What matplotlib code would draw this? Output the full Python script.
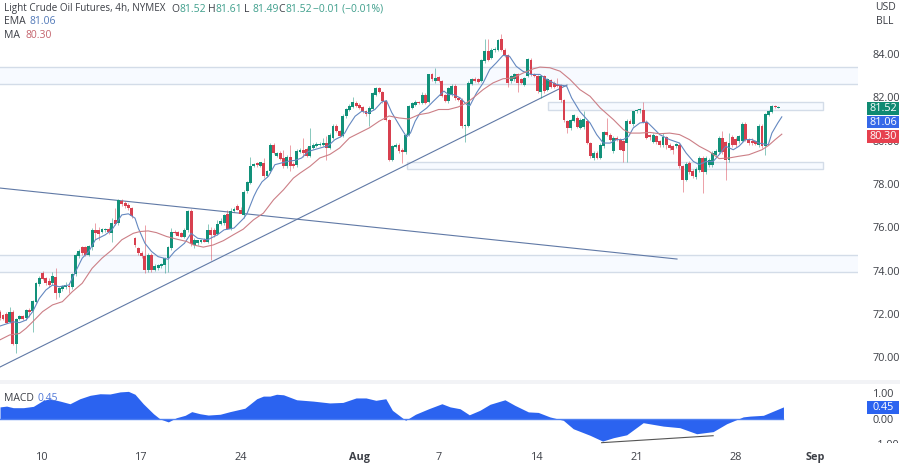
#!/usr/bin/env python3
# plot.py - crude oil 4h chart with EMA, MA and MACD pane
import matplotlib
matplotlib.use('Agg')
import matplotlib.pyplot as plt
from matplotlib.patches import Rectangle
from matplotlib.transforms import Bbox

plt.rcParams['font.family'] = ['Open Sans', 'DejaVu Sans']

# candles, first one sits at bar -1
opens = [72.10, 71.94, 71.99, 71.63, 72.10, 70.60, 71.74, 71.90, 71.79, 72.17,
         72.14, 72.56, 73.38, 73.87, 73.64, 73.53, 73.44, 73.72, 72.98, 73.13,
         73.25, 73.30, 73.25, 73.84, 74.69, 75.08, 75.08, 74.72, 75.08, 75.88,
         75.88, 75.80, 75.85, 75.92, 75.72, 76.34, 76.19, 77.19, 77.11, 77.04,
         76.88, 75.49, 75.03, 74.80, 74.67, 74.03, 74.72, 74.03, 74.10, 74.21,
         74.26, 74.56, 75.03, 75.80, 75.77, 75.72, 75.55, 75.88, 76.77, 75.19,
         75.26, 75.34, 75.42, 75.34, 75.85, 75.85, 75.70, 76.17, 76.19, 76.60,
         75.91, 76.76, 76.99, 76.81, 76.57, 77.68, 78.04, 78.85, 78.97, 78.85,
         78.97, 78.35, 78.58, 79.82, 79.31, 79.43, 79.20, 78.82, 79.25, 78.94,
         78.89, 79.48, 79.59, 79.63, 79.31, 79.66, 79.77, 79.80, 79.82, 79.90,
         79.66, 80.13, 80.67, 80.44, 80.23, 81.13, 81.41, 81.56, 81.75, 81.67,
         81.56, 81.36, 81.21, 81.48, 82.13, 82.44, 82.24, 81.82, 80.97, 79.12,
         79.71, 79.82, 79.58, 79.46, 80.28, 81.51, 81.67, 81.78, 81.75, 82.13,
         81.78, 83.06, 82.75, 82.93, 82.75, 82.10, 81.82, 82.13, 82.52, 81.98,
         81.90, 80.66, 80.70, 82.64, 82.87, 82.83, 82.75, 83.67, 84.14, 83.83,
         84.18, 84.21, 84.68, 84.21, 83.94, 82.75, 82.83, 83.06, 82.83, 82.59,
         82.98, 83.72, 83.06, 82.98, 82.24, 82.98, 82.36, 82.79, 82.67, 82.59,
         82.55, 81.87, 80.90, 80.59, 80.90, 81.05, 80.60, 80.62, 80.90, 79.89,
         79.20, 79.43, 79.20, 79.74, 80.38, 80.28, 79.50, 80.12, 80.05, 79.97,
         79.89, 80.89, 80.75, 81.36, 81.40, 81.40, 80.87, 80.25, 79.94, 80.20,
         79.97, 79.82, 80.15, 79.82, 79.74, 79.74, 79.82, 78.81, 78.20, 78.97,
         78.60, 78.32, 78.66, 79.20, 78.55, 78.86, 78.86, 79.35, 79.48, 80.12,
         79.94, 79.09, 80.15, 80.09, 79.97, 80.00, 80.77, 80.05, 80.00, 79.97,
         79.78, 80.66, 79.74, 81.20, 81.33, 81.59, 81.52]
highs = [72.17, 72.00, 72.10, 72.30, 72.17, 71.79, 71.95, 71.95, 72.20, 72.25,
         72.65, 73.45, 73.75, 73.98, 73.70, 73.64, 73.95, 74.10, 73.25, 73.35,
         73.45, 73.40, 73.90, 74.80, 74.98, 75.15, 75.15, 75.18, 75.95, 76.19,
         76.00, 75.98, 75.98, 76.03, 76.42, 76.88, 77.30, 77.30, 77.20, 77.12,
         76.95, 75.55, 75.10, 74.88, 76.11, 74.80, 74.80, 74.28, 74.32, 74.33,
         74.62, 75.13, 75.98, 75.85, 75.82, 75.78, 75.95, 76.80, 76.85, 75.52,
         75.42, 75.45, 75.50, 76.15, 76.03, 75.95, 76.35, 76.42, 76.62, 76.80,
         76.90, 76.95, 77.05, 76.92, 77.70, 78.12, 79.24, 78.95, 79.02, 79.00,
         79.20, 78.65, 79.90, 79.88, 79.48, 79.50, 79.59, 79.32, 79.82, 79.00,
         79.60, 79.65, 80.13, 79.70, 80.59, 79.88, 79.92, 79.92, 80.13, 80.20,
         80.34, 80.76, 80.75, 80.50, 81.22, 81.50, 81.68, 82.02, 81.82, 81.75,
         81.62, 81.42, 81.58, 82.24, 82.50, 82.50, 82.30, 81.88, 81.02, 79.80,
         79.88, 79.88, 79.65, 80.34, 81.65, 81.80, 81.90, 81.85, 82.25, 82.20,
         83.10, 83.12, 83.36, 83.00, 82.80, 82.16, 82.50, 82.60, 82.60, 82.04,
         81.96, 80.78, 82.75, 82.90, 82.95, 82.90, 83.78, 84.68, 84.68, 84.30,
         84.32, 84.72, 84.91, 84.28, 84.00, 83.05, 83.12, 83.12, 82.90, 82.96,
         83.84, 83.80, 83.12, 83.04, 83.04, 83.05, 82.90, 82.85, 82.74, 82.90,
         82.62, 81.93, 80.97, 81.00, 81.25, 81.12, 81.05, 81.38, 80.97, 79.95,
         79.50, 79.50, 79.88, 80.45, 81.05, 80.35, 80.20, 80.20, 80.12, 80.05,
         81.00, 81.00, 81.38, 81.45, 81.50, 81.80, 80.95, 80.30, 80.35, 80.25,
         80.05, 80.36, 80.20, 79.90, 79.80, 79.90, 79.90, 78.88, 79.00, 79.05,
         78.70, 78.80, 79.28, 79.28, 79.28, 79.20, 79.50, 79.60, 80.20, 80.46,
         79.99, 80.36, 80.25, 80.16, 80.28, 80.85, 80.85, 80.12, 80.10, 80.05,
         80.75, 80.75, 81.30, 81.42, 81.65, 81.63, 81.61]
lows = [71.71, 71.70, 71.56, 71.56, 70.55, 70.21, 71.70, 71.70, 71.70, 71.87,
        71.17, 72.50, 73.30, 73.55, 73.35, 73.25, 73.35, 72.68, 72.76, 73.05,
        73.15, 72.95, 73.15, 73.75, 74.60, 74.72, 74.65, 74.65, 74.95, 75.45,
        75.42, 75.72, 75.78, 75.70, 75.34, 76.10, 76.10, 77.00, 76.90, 76.80,
        76.42, 75.10, 74.72, 74.60, 73.87, 73.95, 73.95, 73.96, 74.02, 74.12,
        73.87, 73.95, 74.95, 75.70, 75.60, 75.55, 75.48, 75.80, 75.15, 75.03,
        75.20, 75.25, 75.30, 75.25, 74.49, 75.55, 75.65, 76.10, 76.12, 75.90,
        75.85, 76.70, 76.80, 76.75, 76.42, 77.60, 77.98, 78.78, 78.80, 78.78,
        78.27, 78.30, 78.50, 79.38, 79.25, 79.10, 78.74, 78.75, 78.58, 78.75,
        78.80, 79.42, 79.25, 79.25, 79.25, 79.60, 79.70, 79.75, 79.76, 79.09,
        79.60, 80.06, 80.38, 80.15, 80.15, 81.05, 81.35, 81.50, 81.55, 81.47,
        81.30, 81.15, 80.67, 81.42, 82.07, 82.18, 81.76, 80.92, 79.05, 79.05,
        79.65, 79.45, 78.97, 79.40, 80.22, 81.45, 81.62, 81.70, 81.68, 81.68,
        81.72, 82.77, 82.68, 82.70, 82.00, 81.77, 81.76, 82.08, 81.90, 81.84,
        80.60, 79.92, 80.65, 82.58, 82.70, 82.66, 82.70, 83.60, 83.70, 83.78,
        84.12, 84.15, 84.15, 83.88, 82.50, 82.68, 82.78, 82.24, 82.62, 82.52,
        82.92, 83.00, 82.92, 82.22, 81.98, 82.22, 82.30, 82.42, 82.42, 82.46,
        81.80, 80.88, 80.35, 80.50, 80.85, 80.58, 80.55, 80.55, 79.85, 79.22,
        79.10, 79.14, 79.14, 79.68, 80.22, 79.98, 79.44, 80.00, 79.55, 79.00,
        79.00, 80.82, 80.70, 81.30, 81.30, 80.82, 80.08, 80.05, 79.87, 79.85,
        79.72, 79.70, 79.60, 79.55, 79.40, 79.65, 78.75, 77.62, 78.12, 78.45,
        78.28, 78.25, 78.55, 77.58, 78.48, 78.78, 78.78, 79.25, 79.40, 79.40,
        78.16, 79.02, 79.70, 79.72, 79.90, 79.92, 79.98, 79.80, 79.82, 79.78,
        79.70, 79.65, 79.35, 81.12, 81.28, 81.50, 81.49]
closes = [71.79, 71.76, 71.59, 72.10, 70.60, 71.74, 71.90, 71.74, 72.17, 72.10,
          72.59, 73.41, 73.64, 73.59, 73.41, 73.33, 73.75, 72.98, 73.18, 73.29,
          73.33, 73.25, 73.84, 74.72, 74.88, 74.80, 74.72, 75.11, 75.88, 75.72,
          75.69, 75.91, 75.91, 75.77, 76.19, 76.16, 77.24, 77.08, 76.96, 76.88,
          76.50, 75.18, 74.80, 74.67, 74.03, 74.72, 74.03, 74.21, 74.26, 74.30,
          74.56, 75.07, 75.80, 75.72, 75.60, 75.57, 75.88, 76.77, 75.23, 75.39,
          75.42, 75.42, 75.34, 75.85, 75.65, 75.62, 76.15, 76.27, 76.57, 75.91,
          76.76, 76.84, 76.81, 76.62, 77.65, 78.08, 78.84, 78.90, 78.86, 79.00,
          78.35, 78.58, 79.82, 79.43, 79.43, 79.15, 78.82, 79.25, 78.82, 78.82,
          79.54, 79.59, 79.43, 79.31, 79.74, 79.82, 79.86, 79.86, 79.90, 79.66,
          80.28, 80.70, 80.44, 80.20, 81.16, 81.44, 81.62, 81.79, 81.62, 81.52,
          81.36, 81.21, 81.52, 82.18, 82.44, 82.24, 81.82, 80.97, 79.12, 79.74,
          79.82, 79.51, 79.46, 80.28, 81.59, 81.75, 81.78, 81.75, 82.13, 81.75,
          83.06, 82.83, 82.90, 82.75, 82.05, 81.82, 82.44, 82.52, 81.98, 81.90,
          80.66, 80.71, 82.67, 82.83, 82.75, 82.72, 83.72, 84.14, 83.75, 84.21,
          84.25, 84.65, 84.21, 83.94, 82.67, 82.98, 83.06, 82.67, 82.67, 82.90,
          83.78, 83.06, 82.98, 82.29, 82.98, 82.29, 82.83, 82.49, 82.49, 82.52,
          81.87, 80.94, 80.59, 80.94, 81.20, 80.63, 80.97, 81.00, 79.89, 79.27,
          79.43, 79.20, 79.81, 80.38, 80.28, 80.05, 80.12, 80.05, 79.58, 79.50,
          80.89, 80.75, 81.36, 81.40, 81.40, 80.87, 80.12, 80.15, 80.28, 79.94,
          79.82, 80.15, 79.78, 79.66, 79.58, 79.85, 78.81, 78.20, 78.92, 78.55,
          78.35, 78.70, 79.20, 78.55, 79.20, 79.12, 79.43, 79.54, 80.12, 79.48,
          79.09, 79.89, 79.82, 79.78, 80.20, 80.77, 80.05, 79.90, 79.90, 79.85,
          80.66, 79.74, 81.23, 81.36, 81.59, 81.54, 81.52]

ema_bars = [-1, 3, 5, 7, 9, 11, 13, 15, 17, 20, 22, 24, 26, 28, 31, 33, 36, 38, 40, 41,
            43, 45, 47, 50, 52, 55, 57, 59, 62, 65, 67, 70, 73, 74, 76, 77, 78.5, 80.4,
            82.4, 84.4, 86.5, 88.5, 90.5, 92.5, 94.5, 98.6, 100.6, 102.6, 103.6, 104.7,
            106.7, 108.7, 110.7, 112.7, 114.8, 116.2, 117.8, 120.3, 122.3, 123.5, 124.9,
            126.4, 128.4, 130.4, 133.6, 135, 136.5, 138.5, 140.5, 141.5, 143.5, 145.5,
            147.5, 149.5, 151.5, 153.5, 155.5, 157.5, 160, 162.7, 164.7, 167.7, 170.8,
            172.3, 174.8, 177.9, 179.9, 181.9, 184, 186, 188, 189.6, 191, 193, 195.2,
            197, 199, 202, 205, 207, 209.2, 211, 213, 215.2, 217, 219, 221.3, 223, 225,
            227, 229, 231.9, 233, 234.8, 236]
ema_values = [71.43, 71.63, 71.59, 71.71, 72.10, 72.71, 73.10, 73.33, 73.25, 73.33, 73.95,
              74.57, 74.88, 75.42, 75.65, 75.88, 76.57, 76.62, 76.42, 75.96, 75.26, 74.88,
              74.64, 74.52, 74.88, 75.26, 75.72, 75.49, 75.42, 75.65, 75.88, 75.96, 76.42,
              76.65, 77.42, 77.73, 78.10, 78.35, 78.89, 78.97, 79.05, 79.09, 79.20, 79.50,
              79.59, 79.77, 80.05, 80.20, 80.36, 80.67, 81.13, 81.36, 81.28, 81.44, 81.79,
              81.85, 81.30, 80.66, 80.17, 80.36, 80.90, 81.28, 81.51, 81.82, 82.29, 82.13,
              82.13, 81.98, 81.67, 81.62, 82.21, 82.67, 83.29, 83.60, 83.94, 83.90, 83.44,
              83.21, 83.06, 83.06, 82.83, 82.60, 82.52, 81.98, 81.35, 80.82, 80.28, 79.89,
              79.89, 80.05, 80.05, 80.20, 80.59, 80.82, 80.86, 80.59, 80.28, 80.05, 79.89,
              79.43, 79.04, 78.89, 79.04, 79.04, 79.35, 79.74, 79.58, 79.74, 80.05, 80.05,
              79.89, 79.81, 80.35, 80.82, 81.10]
ma_bars = [-1, 2, 5, 7, 9, 12, 15, 18, 21, 24, 27, 30, 33, 36, 39.5, 41.5, 44, 46.5, 49.6,
           52.6, 55.7, 57.7, 60.7, 63.7, 66.8, 69.8, 72.8, 75.9, 78.9, 82, 85, 88, 90, 93,
           96, 99, 102, 105, 108, 111, 114, 117, 120, 123, 126, 129, 132, 135, 138, 140.5,
           142.5, 145.5, 148.5, 151.5, 154.5, 157.7, 160.7, 162.7, 165.7, 168.8, 171.8,
           174.8, 177.9, 181, 185, 188, 190, 193, 196, 199, 202, 205, 208, 211, 214, 217,
           220, 223, 226, 230, 232, 234, 236]
ma_values = [70.79, 71.02, 71.09, 71.33, 71.63, 72.10, 72.41, 72.56, 73.02, 73.41, 74.10,
             74.57, 74.95, 75.42, 75.72, 75.80, 75.83, 75.75, 75.57, 75.45, 75.34, 75.18,
             75.08, 75.18, 75.38, 75.65, 75.91, 76.34, 76.65, 77.27, 77.73, 78.27, 78.50,
             78.81, 79.20, 79.36, 79.66, 80.13, 80.36, 80.59, 80.90, 81.14, 81.05, 81.00,
             81.20, 81.28, 81.44, 81.44, 81.56, 81.75, 81.98, 82.36, 82.67, 82.86, 82.90,
             83.13, 83.32, 83.40, 83.37, 83.21, 82.83, 82.36, 82.05, 81.51, 80.97, 80.51,
             80.35, 80.35, 80.38, 80.32, 80.35, 80.28, 80.05, 79.74, 79.50, 79.17, 79.20,
             79.28, 79.35, 79.58, 79.78, 80.05, 80.30]
macd_bars = [-0.9, 1.1, 3.1, 6.2, 9.2, 12.2, 14.2, 17.3, 20.3, 23.3, 26.4, 29.4, 32.4, 35.5,
             38, 40, 42.5, 45.6, 47.6, 50.1, 52.6, 55.2, 57.2, 59.7, 62.2, 65.8, 68.8, 73.3,
             76.9, 78.9, 80.9, 82.9, 85, 89, 94, 99, 103, 107, 110, 113, 116, 118, 122, 125,
             129, 133, 135.5, 138.5, 141.3, 144.5, 147.6, 152.1, 155.1, 159.2, 162.2, 165.7,
             169.8, 172.8, 177.9, 181.7, 185, 189, 194, 200.1, 205.1, 210.2, 215.2, 219.3,
             224.3, 226.4, 230.4, 236.5]
macd_values = [0.46, 0.49, 0.43, 0.43, 0.48, 0.71, 0.77, 0.68, 0.58, 0.77, 0.90, 0.96, 0.95,
               1.03, 1.05, 0.94, 0.58, 0.20, 0.00, -0.11, 0.05, 0.14, 0.28, 0.20, 0.15, 0.18,
               0.28, 0.41, 0.77, 0.87, 0.87, 0.94, 0.92, 0.73, 0.68, 0.61, 0.63, 0.80, 0.80,
               0.71, 0.77, 0.33, -0.05, 0.18, 0.39, 0.58, 0.46, 0.39, 0.16, 0.33, 0.56, 0.73,
               0.52, 0.27, 0.25, 0.08, -0.05, -0.37, -0.62, -0.84, -0.71, -0.60, -0.14, -0.27,
               -0.33, -0.56, -0.48, -0.18, 0.08, 0.11, 0.14, 0.46]

price_ticks = [70, 72, 74, 76, 78, 80, 82, 84]
macd_ticks = [0, 1]
date_bars = [12, 42, 72, 108, 132, 162, 192, 222, 246]
date_labels = ['10', '17', '24', 'Aug', '7', '14', '21', '28', 'Sep']

UP = '#12917a'
DOWN = '#d8404f'
TEXT = '#3c3f46'
EDGE = '#d3dce8'
FILL = '#f7faff'
LINE = '#6079a6'
W, H = 900, 465
RIGHT = 858


def bar_x(px):
    return (px - 3) / 3.3


fig = plt.figure(figsize=(W / 100, H / 100), dpi=100)
ax = fig.add_axes([0, 1 - 380 / H, RIGHT / W, 380 / H])
ax2 = fig.add_axes([0, 1 - 444 / H, RIGHT / W, 60 / H])

for a in (ax, ax2):
    a.set_xlim(bar_x(0), bar_x(RIGHT))
    for s in a.spines.values():
        s.set_visible(False)
    a.yaxis.tick_right()

# price pane
ax.set_ylim(68.94, 86.5)
ax.set_xticks([])
ax.set_yticks(price_ticks, [f'{p:.2f}' for p in price_ticks])
ax.tick_params(axis='y', length=0, pad=10.5, labelsize=7.8, labelcolor=TEXT)

# support and resistance boxes
for left, right, low, high in [(bar_x(-5), bar_x(RIGHT + 5), 82.63, 83.40),
                               (bar_x(-5), bar_x(RIGHT + 5), 73.93, 74.72),
                               (bar_x(548), bar_x(823), 81.43, 81.80),
                               (bar_x(406.7), bar_x(823), 78.70, 79.03)]:
    ax.add_patch(Rectangle((left, low), right - left, high - low, facecolor=FILL,
                           edgecolor=EDGE, linewidth=1.0, zorder=1))

# trend lines
ax.plot([bar_x(0), bar_x(567)], [69.54, 82.57], color=LINE, lw=0.8, zorder=2)
ax.plot([bar_x(0), bar_x(677)], [77.81, 74.53], color=LINE, lw=0.8, zorder=2)

xs = [i - 1 for i in range(len(opens))]
for x, o, h, l, c in zip(xs, opens, highs, lows, closes):
    col = UP if c >= o else DOWN
    ax.vlines(x, l, h, color=col, lw=0.7, alpha=0.5, zorder=3)
    ax.bar(x, max(abs(c - o), 0.05), bottom=min(o, c), width=0.86, color=col, zorder=4, linewidth=0)

ax.plot(ema_bars, ema_values, color='#6488c0', lw=0.8, zorder=5)
ax.plot(ma_bars, ma_values, color='#cc7f86', lw=0.8, zorder=5)

# macd pane
ax2.set_ylim(-0.95, 1.33)
ax2.fill_between(macd_bars, macd_values, 0, color='#2b63f0', linewidth=0, zorder=2)
ax2.plot([macd_bars[0], macd_bars[-1]], [0, 0], color='#4f80f2', lw=1.0, zorder=3)
ax2.plot([181.4, 215.2], [-0.90, -0.635], color='#555555', lw=0.8, zorder=4)
ax2.set_yticks(macd_ticks, [f'{v:.2f}' for v in macd_ticks])
ax2.set_xticks(date_bars, date_labels)
ax2.tick_params(axis='y', length=0, pad=10.5, labelsize=7.8, labelcolor=TEXT)
ax2.tick_params(axis='x', length=0, pad=6, labelsize=7.8, labelcolor=TEXT)
for lab in ax2.get_xticklabels():
    if lab.get_text() in ('Aug', 'Sep'):
        lab.set_fontweight('bold')


def px_text(x, y, s, color=TEXT, ha='left', size=7.5, **kw):
    return fig.text(x / W, 1 - y / H, s, color=color, ha=ha, va='center', fontsize=size, **kw)


def px_box(x0, y0, x1, y1, color):
    fig.add_artist(Rectangle((x0 / W, 1 - y1 / H), (x1 - x0) / W, (y1 - y0) / H, facecolor=color,
                             edgecolor='none', transform=fig.transFigure))


# pane separator
px_box(0, 380, 900, 384, '#f2f3f6')

# -1.00 label is cut by the bottom of the scale
minus = px_text(885, 445, '\u22121.00', ha='center', size=7.8)
minus.set_clip_box(Bbox([[860, H - 443], [900, H - 430]]))
minus.set_clip_on(True)

# last value tags
for y0, y1, col, label in [(102, 115, '#0f8a72', '81.52'), (116, 128, '#3568e8', '81.06'),
                           (130, 143, '#e6404e', '80.30'), (401, 414, '#2b63f0', '0.45')]:
    px_box(867, y0, 899, y1, col)
    px_text(883, (y0 + y1) / 2, label, color='white', ha='center', size=7.8)

# header
px_text(4, 9, 'Light Crude Oil Futures, 4h, NYMEX', size=7.1)
for x, lab, val in [(171, 'O', '81.52'), (208, 'H', '81.61'), (244, 'L', '81.49'), (278, 'C', '81.52')]:
    px_text(x, 9, lab)
    px_text(x + 8, 9, val, color='#3f9f8c')
px_text(313, 9, '\u22120.01 (\u22120.01%)', color='#3f9f8c')
px_text(4, 22, 'EMA')
px_text(30, 22, '81.06', color='#5078b8')
px_text(4, 36, 'MA')
px_text(25, 36, '80.30', color='#c4636c')
px_text(4, 398, 'MACD')
px_text(37, 398, '0.45', color='#5078d8')
px_text(885, 8, 'USD', ha='center')
px_text(885, 21, 'BLL', ha='center')

fig.savefig('out.png', dpi=100)
